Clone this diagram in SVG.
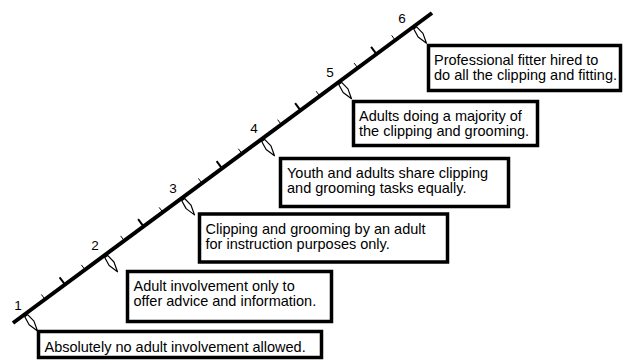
<svg xmlns="http://www.w3.org/2000/svg" xmlns:xlink="http://www.w3.org/1999/xlink" width="626" height="360" viewBox="0 0 626 360">
<style>
.box{fill:#fff;stroke:#000;stroke-width:3.5}
.t{font-family:"Liberation Sans",Arial,sans-serif;font-size:14.5px;fill:#000}
.n{font-family:"Liberation Sans",Arial,sans-serif;font-size:13.5px;fill:#000;text-anchor:middle}
.ts{stroke:#000;stroke-width:1}
.tb{stroke:#000;stroke-width:2}
.arr{fill:#fff;stroke:#000;stroke-width:1.2;stroke-linejoin:round}
</style>
<defs>
<line id="tickS" x1="0" y1="0" x2="-3.6" y2="-4.8" class="ts"/>
<line id="tickB" x1="0" y1="0" x2="-5.4" y2="-7.2" class="tb"/>
<path id="nib" d="M2,-1.8 L11,-3 L21,0 L11,3 L2,1.8 Z" class="arr"/>
</defs>
<g id="connectors">
<use xlink:href="#nib" transform="translate(25,314.1) rotate(53.5)"/>
<use xlink:href="#nib" transform="translate(105,254.9) rotate(53.5)"/>
<use xlink:href="#nib" transform="translate(182,198) rotate(53.5)"/>
<use xlink:href="#nib" transform="translate(262,138.8) rotate(53.5)"/>
<use xlink:href="#nib" transform="translate(339,81.8) rotate(53.5)"/>
<use xlink:href="#nib" transform="translate(414,26.3) rotate(53.5)"/>
<use xlink:href="#tickS" transform="translate(45,299.3)"/>
<use xlink:href="#tickB" transform="translate(65,284.5)"/>
<use xlink:href="#tickS" transform="translate(85,269.7)"/>
<use xlink:href="#tickS" transform="translate(124.25,240.7)"/>
<use xlink:href="#tickB" transform="translate(143.5,226.4)"/>
<use xlink:href="#tickS" transform="translate(162.75,212.2)"/>
<use xlink:href="#tickS" transform="translate(202,183.2)"/>
<use xlink:href="#tickB" transform="translate(222,168.4)"/>
<use xlink:href="#tickS" transform="translate(242,153.6)"/>
<use xlink:href="#tickS" transform="translate(281.25,124.5)"/>
<use xlink:href="#tickB" transform="translate(300.5,110.3)"/>
<use xlink:href="#tickS" transform="translate(319.75,96)"/>
<use xlink:href="#tickS" transform="translate(357.75,67.9)"/>
<use xlink:href="#tickB" transform="translate(376.5,54.1)"/>
<use xlink:href="#tickS" transform="translate(395.25,40.2)"/>
<line x1="13" y1="323" x2="432" y2="13" stroke="#000" stroke-width="4"/>
</g>
<g id="labels">
<text class="n" x="18" y="309.5">1</text>
<text class="n" x="95" y="249.5">2</text>
<text class="n" x="173" y="192.5">3</text>
<text class="n" x="254" y="132.5">4</text>
<text class="n" x="330" y="76.5">5</text>
<text class="n" x="402" y="22.5">6</text>
</g>
<g id="step1">
<rect class="box" x="38.5" y="331.5" width="283" height="26"/>
<text class="t" x="44.5" y="351.5">Absolutely no adult involvement allowed.</text>
</g>
<g id="step2">
<rect class="box" x="127.5" y="271.5" width="204" height="50"/>
<text class="t" x="133.5" y="290.5">Adult involvement only to</text>
<text class="t" x="133.5" y="306">offer advice and information.</text>
</g>
<g id="step3">
<rect class="box" x="199.5" y="214" width="248" height="48"/>
<text class="t" x="205.5" y="233.5">Clipping and grooming by an adult</text>
<text class="t" x="205.5" y="249">for instruction purposes only.</text>
</g>
<g id="step4">
<rect class="box" x="280.5" y="158.5" width="228" height="48"/>
<text class="t" x="287" y="177.5">Youth and adults share clipping</text>
<text class="t" x="287" y="193">and grooming tasks equally.</text>
</g>
<g id="step5">
<rect class="box" x="353.5" y="101.5" width="184" height="44"/>
<text class="t" x="359" y="120.5">Adults doing a majority of</text>
<text class="t" x="359" y="136">the clipping and grooming.</text>
</g>
<g id="step6">
<rect class="box" x="428.5" y="45.5" width="192" height="45"/>
<text class="t" x="434" y="64.5">Professional fitter hired to</text>
<text class="t" x="434" y="80">do all the clipping and fitting.</text>
</g>
</svg>
